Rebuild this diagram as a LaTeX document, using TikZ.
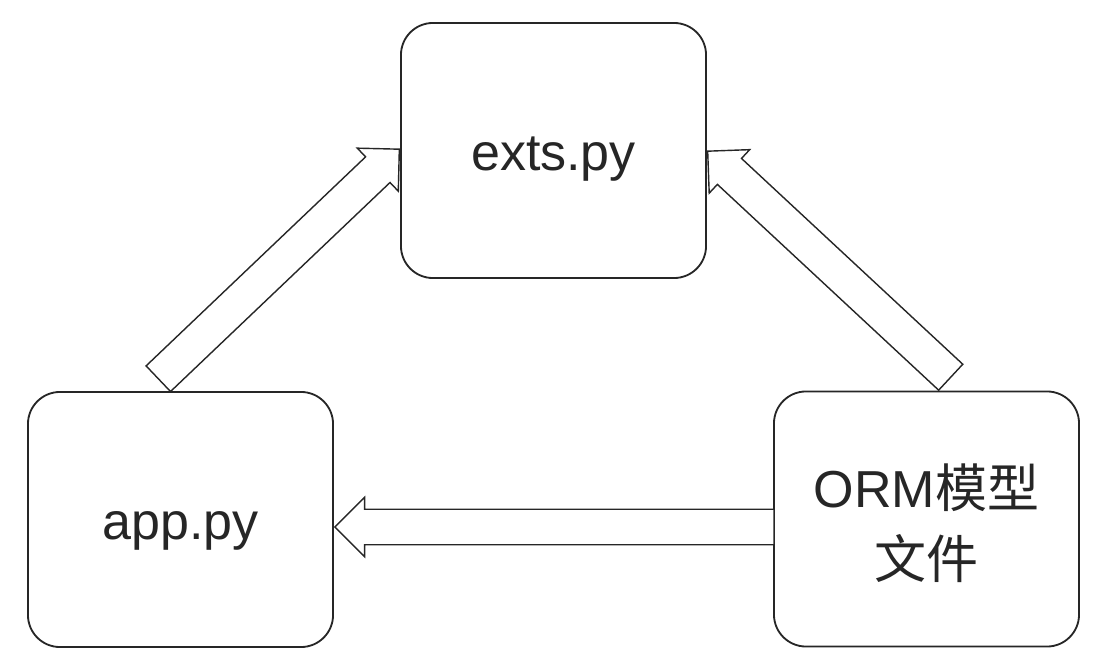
\documentclass[tikz,border=0pt]{standalone}
\usepackage{fontspec}
\setmainfont{Liberation Sans}
\newfontfamily\cjkfont{Noto Sans CJK SC}
\usetikzlibrary{shapes.arrows,calc}

\begin{document}
\begin{tikzpicture}[x=0.025cm,y=-0.025cm,
        filebox/.style={draw=black!85,line width=1.3pt,rounded corners=0.8cm,
            minimum width=7.625cm,minimum height=6.375cm,
            font=\fontsize{37}{50.5}\selectfont,text=black!85,
            text height=1.2cm,text depth=0.2cm,align=center},
        hollowarrow/.style={single arrow,draw=black!85,fill=white,line width=1pt,
            single arrow tip angle=90,single arrow head extend=0.3cm,
            inner xsep=0pt,inner ysep=0.425cm,anchor=tip}]
    \useasboundingbox (0,0) rectangle (1100,670);
    \node[filebox] (exts) at (553.5,150.5) {exts.py};
    \node[filebox] (app) at (180.5,519.5) {app.py};
    \node[filebox,text height=3.1cm,text depth=0.15cm] (orm) at (926.5,519) {ORM{\cjkfont 模型}\\{\cjkfont 文件}};
    \coordinate (lefttip) at ($(exts.west)+(0,-2)$);
    \coordinate (lefttail) at ($(app.north)+(-21.5,-13)$);
    \coordinate (righttip) at (exts.east);
    \coordinate (righttail) at ($(orm.north)+(23.5,-14)$);
    \coordinate (bottip) at ($(app.east)+(0,7.5)$);
    \coordinate (bottail) at ($(orm.west)+(0,8)$);
    \foreach \tail/\tip in {lefttail/lefttip,righttail/righttip,bottail/bottip}{
        \path let \p1=($(\tip)-(\tail)$),\n1={atan2(\y1,\x1)},\n2={veclen(\x1,\y1)} in
            node[hollowarrow,rotate=\n1,minimum height=\n2] at (\tip) {};
    }
\end{tikzpicture}
\end{document}
